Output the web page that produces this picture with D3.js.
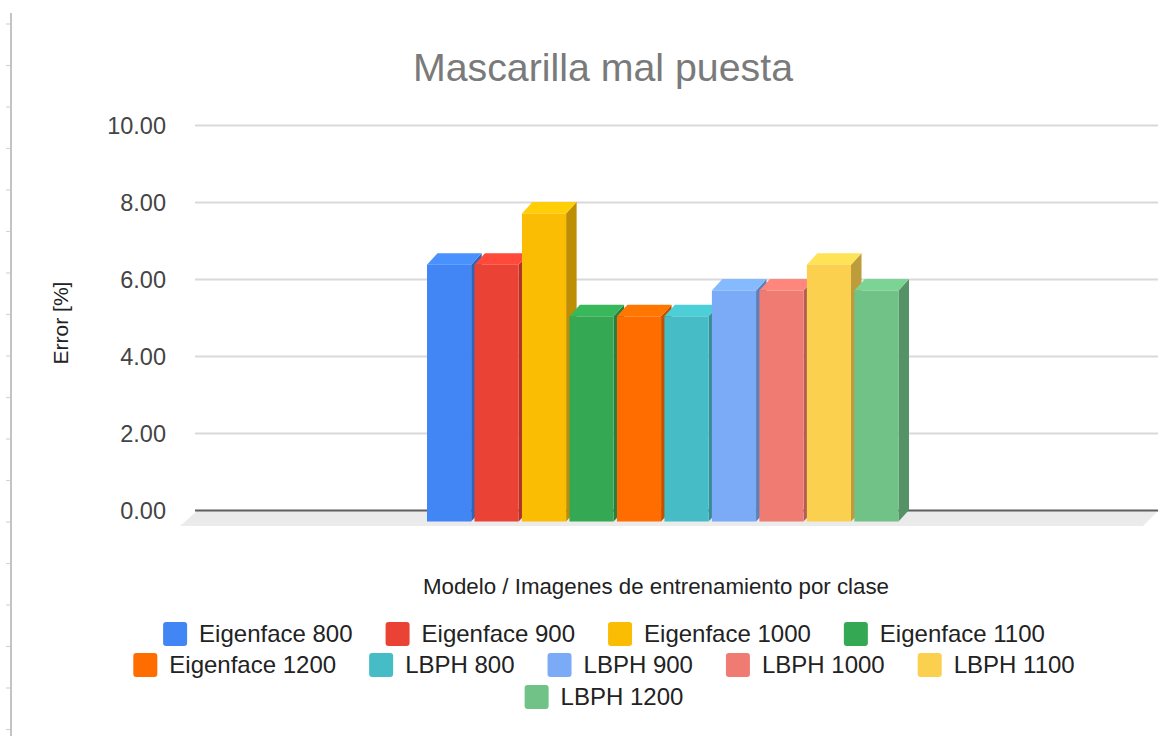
<!DOCTYPE html>
<html>
<head>
<meta charset="utf-8">
<script src="https://cdnjs.cloudflare.com/ajax/libs/d3/7.8.5/d3.min.js"></script>
<style>
  html, body { margin: 0; padding: 0; background: #ffffff; }
  svg { display: block; font-family: "Liberation Sans", Arial, sans-serif; }
</style>
</head>
<body>
<svg id="chart" width="1176" height="736"></svg>
<script>
// Error rate (%) with a badly worn mask, per model / training images per class
const chartTitle = "Mascarilla mal puesta";
const xAxisTitle = "Modelo / Imagenes de entrenamiento por clase";
const yAxisTitle = "Error [%]";
const seriesNames = [
  "Eigenface 800", "Eigenface 900", "Eigenface 1000", "Eigenface 1100", "Eigenface 1200",
  "LBPH 800", "LBPH 900", "LBPH 1000", "LBPH 1100", "LBPH 1200"
];
const seriesValues = [6.67, 6.67, 8.00, 5.33, 5.33, 5.33, 6.00, 6.00, 6.67, 6.00];
const yTicks = [0, 2, 4, 6, 8, 10];
const seriesColors = [
  "#4285f4", "#ea4335", "#fbbc04", "#34a853", "#ff6d01",
  "#46bdc6", "#7baaf7", "#f07b72", "#fcd04f", "#71c287"
];
// legend rows as laid out under the chart
const legendRows = [
  ["Eigenface 800", "Eigenface 900", "Eigenface 1000", "Eigenface 1100"],
  ["Eigenface 1200", "LBPH 800", "LBPH 900", "LBPH 1000", "LBPH 1100"],
  ["LBPH 1200"]
];

const svg = d3.select("#chart");
const W = 1176, H = 736;

// back wall of the plot and 3D depth offset of the columns
const plot = { left: 195, right: 1158, top: 125, bottom: 510 };
const depth = { dx: 10.5, dy: -11.5 };

const y = d3.scaleLinear().domain([0, 10]).range([plot.bottom, plot.top]);

// single category holding all ten series (front faces are shifted forward/left)
const x0 = d3.scaleBand().domain(["grupo"]).range([plot.left - 22, plot.right - 5.5]).paddingOuter(0.5387).paddingInner(0);
const x1 = d3.scaleBand().domain(seriesNames).range([x0("grupo"), x0("grupo") + x0.bandwidth()]).paddingInner(0.07).paddingOuter(0);
const color = d3.scaleOrdinal().domain(seriesNames).range(seriesColors);

// ruler strip on the left edge
const ruler = svg.append("g");
ruler.append("line").attr("x1", 11).attr("x2", 11).attr("y1", 13).attr("y2", H)
  .attr("stroke", "#b5b5b5").attr("stroke-width", 1.6);
ruler.selectAll("line.tick").data(d3.range(24, H, 41.5)).join("line")
  .attr("class", "tick")
  .attr("x1", 6).attr("x2", 10).attr("y1", d => d).attr("y2", d => d)
  .attr("stroke", "#d6d6d6").attr("stroke-width", 1.2);

// title
svg.append("text")
  .attr("x", 603).attr("y", 81)
  .attr("text-anchor", "middle")
  .attr("font-size", 39.3)
  .attr("fill", "#7a7a7a")
  .text(chartTitle);

// floor of the 3D box
const floorDepth = { dx: -15, dy: 16 };
svg.append("path")
  .attr("d", `M${plot.left + 2},${plot.bottom + 1} L${plot.right},${plot.bottom + 1} L${plot.right + floorDepth.dx},${plot.bottom + floorDepth.dy} L${plot.left + floorDepth.dx},${plot.bottom + floorDepth.dy} Z`)
  .attr("fill", "#ebebeb");

// gridlines on the back wall
const yAxis = d3.axisLeft(y).tickValues(yTicks).tickSize(0).tickPadding(29).tickFormat(d3.format(".2f"));
const gy = svg.append("g").attr("transform", `translate(${plot.left},0)`).call(yAxis);
gy.select(".domain").remove();
gy.selectAll(".tick text")
  .attr("font-size", 23.5)
  .attr("fill", "#444")
  .attr("font-family", "'Liberation Sans', Arial, sans-serif")
  .attr("dy", "0.36em");
gy.selectAll(".tick").append("line")
  .attr("x1", 0).attr("x2", plot.right - plot.left)
  .attr("stroke", d => d === 0 ? "#5f5f5f" : "#d9d9d9")
  .attr("stroke-width", d => d === 0 ? 2.2 : 1.8);

// columns: front face sits forward/left of the back face
const bars = svg.append("g").selectAll("g.bar").data(seriesNames.map((s, i) => ({ s, v: seriesValues[i] })))
  .join("g").attr("class", "bar");

const fx = d => x1(d.s);
const fw = x1.bandwidth();
const fTop = d => y(d.v) - depth.dy;
const fBot = y(0) - depth.dy;

// side face
bars.append("path")
  .attr("d", d => {
    const xr = fx(d) + fw;
    return `M${xr},${fTop(d)} L${xr + depth.dx},${fTop(d) + depth.dy} L${xr + depth.dx},${fBot + depth.dy} L${xr},${fBot} Z`;
  })
  .attr("fill", d => d3.color(color(d.s)).darker(0.8));

// top face
bars.append("path")
  .attr("d", d => {
    const xl = fx(d), xr = fx(d) + fw, t = fTop(d);
    return `M${xl},${t} L${xl + depth.dx},${t + depth.dy} L${xr + depth.dx},${t + depth.dy} L${xr},${t} Z`;
  })
  .attr("fill", d => d3.color(color(d.s)).brighter(0.25));

// front face
bars.append("rect")
  .attr("x", fx)
  .attr("y", fTop)
  .attr("width", fw)
  .attr("height", d => fBot - fTop(d))
  .attr("fill", d => color(d.s));

// axis titles
svg.append("text")
  .attr("transform", `translate(68,323) rotate(-90)`)
  .attr("text-anchor", "middle")
  .attr("font-size", 21)
  .attr("fill", "#222")
  .text(yAxisTitle);

svg.append("text")
  .attr("x", 656).attr("y", 594)
  .attr("text-anchor", "middle")
  .attr("font-size", 22.3)
  .attr("fill", "#222")
  .text(xAxisTitle);

// legend, centred rows
const legendY = [634, 665, 697];
const swatch = 24, swGap = 12, itemGap = 33;
const legend = svg.append("g").attr("font-size", 24).attr("fill", "#222");
legendRows.forEach((row, r) => {
  const tmp = legend.append("g");
  const items = row.map(name => {
    const t = tmp.append("text").text(name);
    const w = t.node().getComputedTextLength();
    t.remove();
    return { name, w };
  });
  tmp.remove();
  const total = d3.sum(items, d => swatch + swGap + d.w) + itemGap * (items.length - 1);
  let cx = 604 - total / 2;
  items.forEach(it => {
    const g = legend.append("g").attr("transform", `translate(${cx},${legendY[r]})`);
    g.append("rect").attr("x", 0).attr("y", -swatch / 2).attr("width", swatch).attr("height", swatch)
      .attr("rx", 3).attr("fill", color(it.name));
    g.append("text").attr("x", swatch + swGap).attr("y", 0).attr("dy", "0.35em").text(it.name);
    cx += swatch + swGap + it.w + itemGap;
  });
});
</script>
</body>
</html>
